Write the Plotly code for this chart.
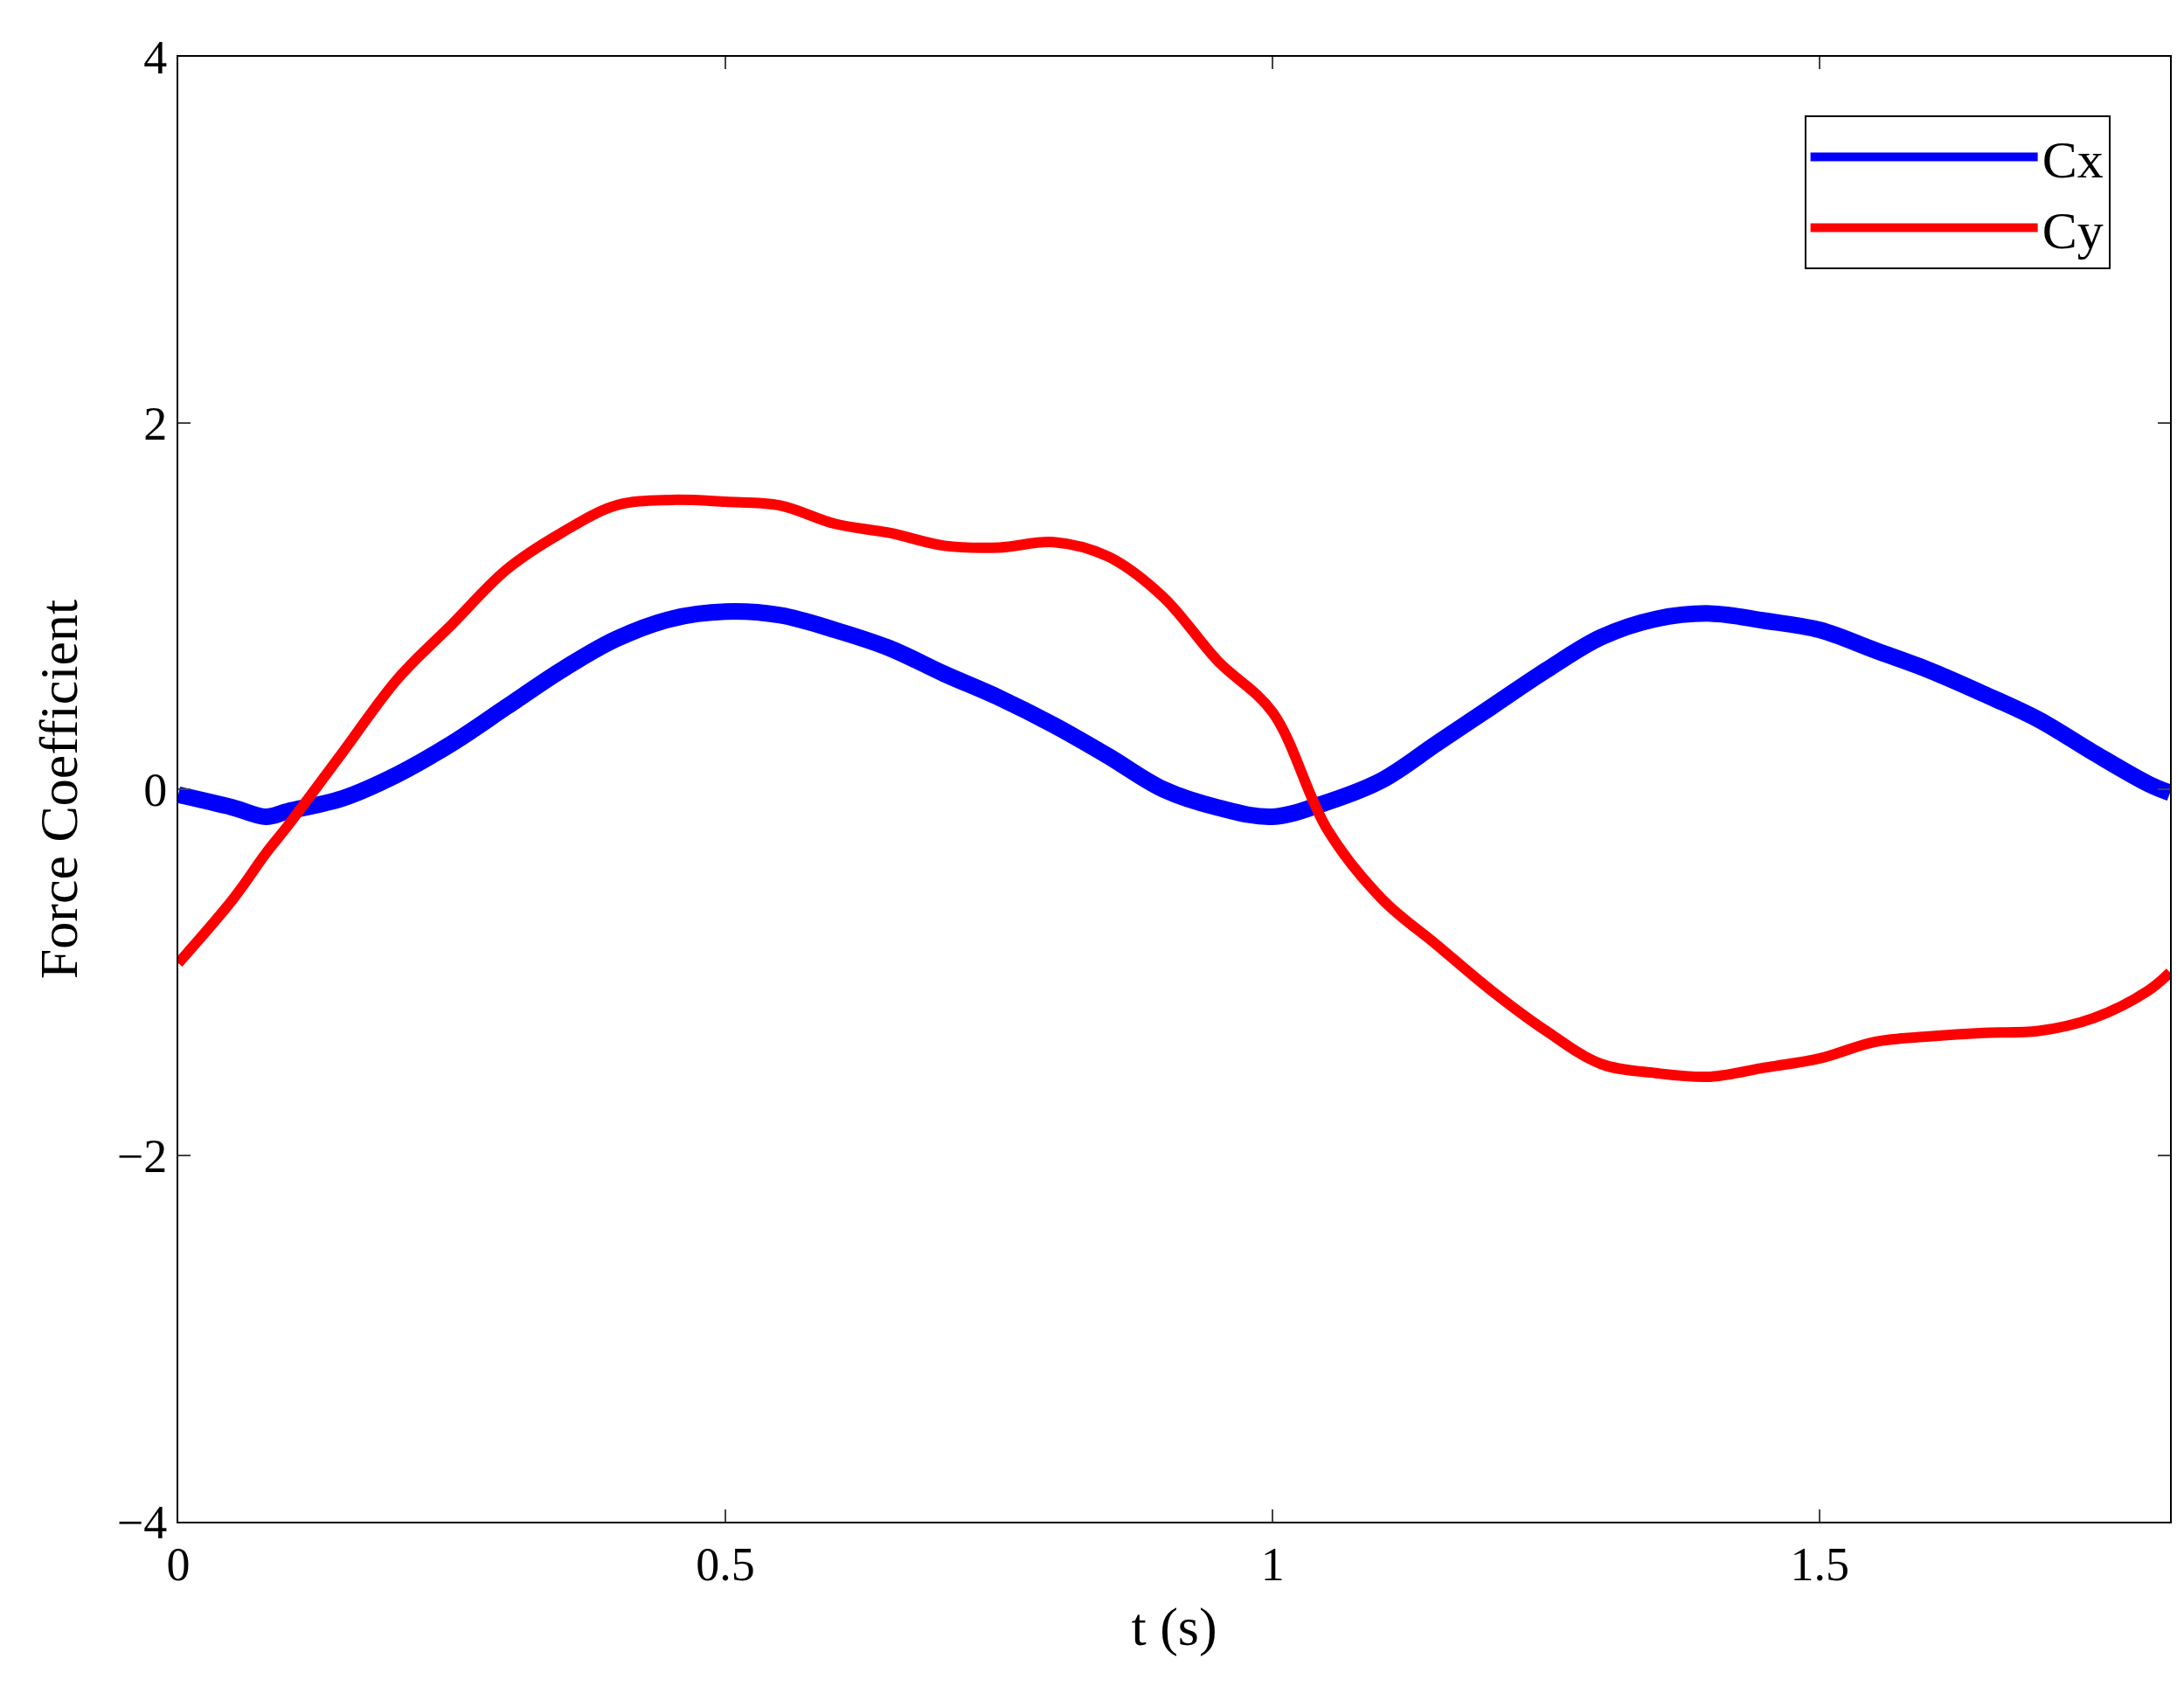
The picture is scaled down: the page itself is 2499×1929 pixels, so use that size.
import plotly.graph_objects as go

t = [0, 0.05, 0.08, 0.1, 0.15, 0.2, 0.25, 0.3, 0.35, 0.4, 0.45, 0.5, 0.55, 0.6, 0.65, 0.7,
     0.75, 0.8, 0.85, 0.9, 0.95, 1.0, 1.05, 1.1, 1.15, 1.2, 1.25, 1.3, 1.35, 1.4, 1.45,
     1.5, 1.55, 1.6, 1.65, 1.7, 1.75, 1.8, 1.82]
cx = [-0.03, -0.1, -0.15, -0.12, -0.05, 0.08, 0.25, 0.45, 0.65, 0.82, 0.93, 0.97, 0.95,
      0.87, 0.77, 0.63, 0.5, 0.35, 0.18, 0.0, -0.1, -0.15, -0.07, 0.05, 0.25, 0.45, 0.65,
      0.83, 0.93, 0.96, 0.92, 0.87, 0.76, 0.65, 0.52, 0.38, 0.2, 0.03, -0.02]
cy = [-0.95, -0.6, -0.35, -0.2, 0.2, 0.6, 0.9, 1.2, 1.4, 1.55, 1.58, 1.57, 1.55, 1.45,
      1.4, 1.33, 1.32, 1.35, 1.27, 1.05, 0.7, 0.42, -0.22, -0.6, -0.85, -1.1, -1.32, -1.5,
      -1.55, -1.57, -1.52, -1.47, -1.38, -1.35, -1.33, -1.32, -1.25, -1.1, -1.0]

font = dict(family="Liberation Serif", color="black")

fig = go.Figure()
fig.add_trace(go.Scatter(x=t, y=cx, mode="lines", name="Cx",
                         line=dict(color="#0000ff", width=19, shape="spline")))
fig.add_trace(go.Scatter(x=t, y=cy, mode="lines", name="Cy",
                         line=dict(color="#ff0000", width=12, shape="spline")))

axis = dict(showline=True, linecolor="black", linewidth=2, mirror="ticks",
            ticks="inside", ticklen=14, tickwidth=2, showgrid=False, zeroline=False,
            tickfont=dict(size=54, **font))
fig.update_xaxes(range=[0, 1.82], tickvals=[0, 0.5, 1, 1.5], ticktext=["0", "0.5", "1", "1.5"],
                 title=dict(text="t (s)", font=dict(size=62, **font), standoff=20), **axis)
fig.update_yaxes(range=[-4, 4], tickvals=[-4, -2, 0, 2, 4], ticktext=["\u22124", "\u22122", "0", "2", "4"],
                 title=dict(text="Force Coefficient", font=dict(size=62, **font), standoff=25), **axis)

fig.update_layout(
    width=2499, height=1929, plot_bgcolor="white", paper_bgcolor="white",
    margin=dict(l=196, r=24, t=57, b=196),
    legend=dict(x=0.97, y=0.96, xanchor="right", yanchor="top", bordercolor="black",
                borderwidth=2, font=dict(size=60, **font), bgcolor="white",
                itemwidth=260),
)
fig.write_html("out.html")
